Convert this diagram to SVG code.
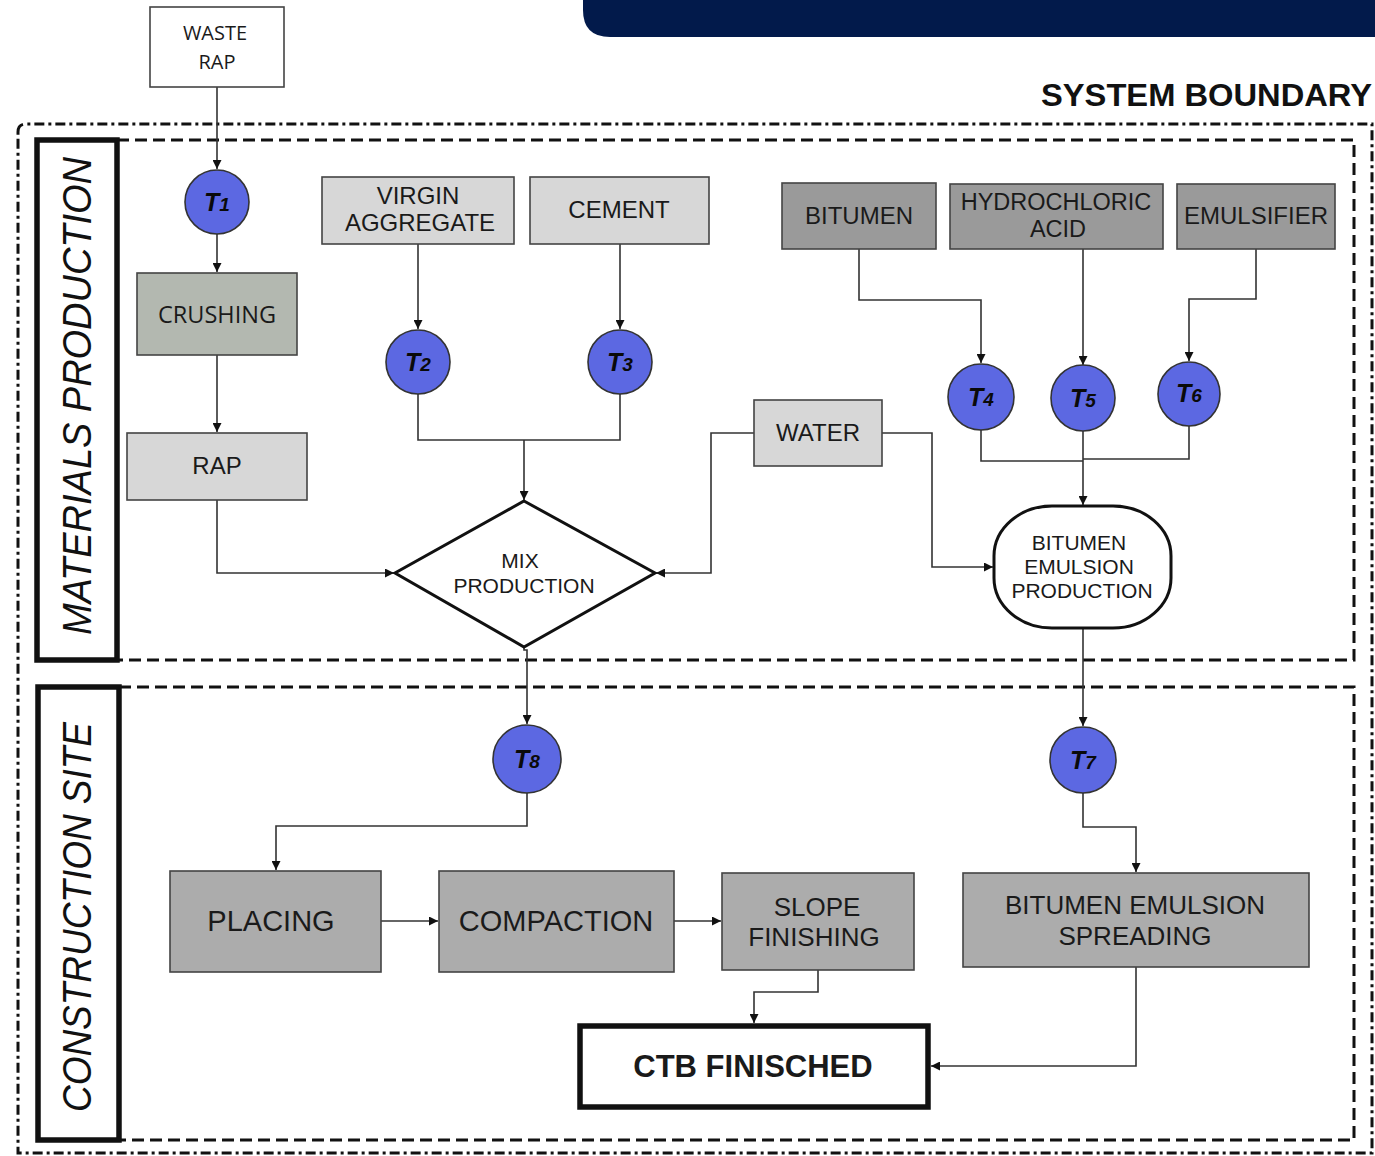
<svg xmlns="http://www.w3.org/2000/svg" width="1375" height="1156" viewBox="0 0 1375 1156">
  <defs>
    <marker id="arr" viewBox="0 0 10 10" refX="10" refY="5" markerWidth="9" markerHeight="9" markerUnits="userSpaceOnUse" orient="auto">
      <path d="M0,0 L10,5 L0,10 Z" fill="#111"/>
    </marker>
    <style>
      .box { stroke: #444; stroke-width: 1.6; }
      .light { fill: #d7d7d7; }
      .mid { fill: #acacac; }
      .dark { fill: #9a9a9a; }
      .t { font-family: "Liberation Sans", Arial, sans-serif; fill: #1a1a1a; text-anchor: middle; }
      .os { font-family: "Open Sans", "Liberation Sans", sans-serif; fill: #1a1a1a; text-anchor: middle; }
      .tc circle, .tc ellipse { fill: #5c68e2; stroke: #333; stroke-width: 1.6; }
      .tl { font-family: "Liberation Sans", Arial, sans-serif; font-weight: bold; font-style: italic; fill: #0a0a0a; text-anchor: middle; font-size: 25px; }
      .tl tspan { font-size: 19px; }
      .conn path { fill: none; stroke: #333; stroke-width: 1.6; }
      .dash { fill: none; stroke: #111; stroke-width: 3; stroke-dasharray: 12 6; }
      .lane { fill: none; stroke: #111; stroke-width: 5.5; }
      .lanetxt { font-family: "Liberation Sans", Arial, sans-serif; font-style: italic; font-size: 40px; fill: #111; text-anchor: middle; }
    </style>
  </defs>

  <rect width="1375" height="1156" fill="#fff"/>

  <!-- header band -->
  <path d="M583,0 H1375 V37 H610 Q583,37 583,10 Z" fill="#021a4b"/>

  <!-- system boundary -->
  <text x="1372" y="106" font-family="Liberation Sans, Arial, sans-serif" font-weight="bold" font-size="32" text-anchor="end" textLength="331" lengthAdjust="spacingAndGlyphs" fill="#111">SYSTEM  BOUNDARY</text>
  <path d="M18,132 Q18,124 26,124 H1372 V1153 H18 Z" fill="none" stroke="#111" stroke-width="3" stroke-dasharray="10 4 3 4"/>

  <!-- lanes -->
  <g id="lane-materials">
    <path class="dash" d="M117,140 H1354 V660 H117"/>
    <rect class="lane" x="37" y="140" width="80" height="520"/>
    <text class="lanetxt" transform="translate(91,396) rotate(-90)" textLength="478" lengthAdjust="spacingAndGlyphs">MATERIALS  PRODUCTION</text>
  </g>
  <g id="lane-construction">
    <path class="dash" d="M119,687 H1354 V1140 H119"/>
    <rect class="lane" x="38" y="687" width="81" height="453"/>
    <text class="lanetxt" transform="translate(91,917) rotate(-90)" textLength="390" lengthAdjust="spacingAndGlyphs">CONSTRUCTION SITE</text>
  </g>

  <!-- connectors -->
  <g class="conn">
    <path d="M217,87 V169" marker-end="url(#arr)"/>
    <path d="M217,234 V272" marker-end="url(#arr)"/>
    <path d="M217,355 V432" marker-end="url(#arr)"/>
    <path d="M217,500 V573 H394" marker-end="url(#arr)"/>
    <path d="M418,244 V329" marker-end="url(#arr)"/>
    <path d="M620,244 V329" marker-end="url(#arr)"/>
    <path d="M418,394 V440 H620 V394"/>
    <path d="M524,440 V500" marker-end="url(#arr)"/>
    <path d="M754,433 H711 V573 H656" marker-end="url(#arr)"/>
    <path d="M882,433 H932 V567 H993" marker-end="url(#arr)"/>
    <path d="M859,249 V300 H981 V363" marker-end="url(#arr)"/>
    <path d="M1083,249 V365" marker-end="url(#arr)"/>
    <path d="M1256,249 V299 H1189 V361" marker-end="url(#arr)"/>
    <path d="M981,430 V461 H1083"/>
    <path d="M1189,426 V459 H1083"/>
    <path d="M1083,431 V505" marker-end="url(#arr)"/>
    <path d="M1083,628 V726" marker-end="url(#arr)"/>
    <path d="M1083,793 V827 H1136 V872" marker-end="url(#arr)"/>
    <path d="M1136,967 V1066 H931" marker-end="url(#arr)"/>
    <path d="M524,647 V650 H527 V724" marker-end="url(#arr)"/>
    <path d="M527,793 V826 H276 V870" marker-end="url(#arr)"/>
    <path d="M381,921 H438" marker-end="url(#arr)"/>
    <path d="M674,921 H721" marker-end="url(#arr)"/>
    <path d="M818,970 V992 H754 V1023" marker-end="url(#arr)"/>
  </g>

  <!-- source nodes -->
  <g id="waste-rap">
    <rect x="150" y="7" width="134" height="80" fill="#fff" stroke="#444" stroke-width="1.6"/>
    <text class="os" x="215" y="40" font-size="20">WASTE</text>
    <text class="os" x="217" y="69" font-size="20">RAP</text>
  </g>
  <g id="crushing">
    <rect class="box" x="137" y="273" width="160" height="82" fill="#b3b8b0"/>
    <text class="os" x="217" y="323" font-size="23.5">CRUSHING</text>
  </g>
  <g id="rap">
    <rect class="box light" x="127" y="433" width="180" height="67"/>
    <text class="t" x="217" y="474" font-size="24">RAP</text>
  </g>
  <g id="virgin-aggregate">
    <rect class="box light" x="322" y="177" width="192" height="67"/>
    <text class="t" x="418" y="204" font-size="24">VIRGIN</text>
    <text class="t" x="420" y="231" font-size="24">AGGREGATE</text>
  </g>
  <g id="cement">
    <rect class="box light" x="530" y="177" width="179" height="67"/>
    <text class="t" x="619" y="218" font-size="24">CEMENT</text>
  </g>
  <g id="water">
    <rect class="box light" x="754" y="400" width="128" height="66"/>
    <text class="t" x="818" y="441" font-size="24">WATER</text>
  </g>
  <g id="bitumen">
    <rect class="box dark" x="782" y="183" width="154" height="66"/>
    <text class="t" x="859" y="224" font-size="24">BITUMEN</text>
  </g>
  <g id="hydrochloric-acid">
    <rect class="box dark" x="950" y="184" width="213" height="65"/>
    <text class="t" x="1056" y="210" font-size="23.5">HYDROCHLORIC</text>
    <text class="t" x="1058" y="237" font-size="23.5">ACID</text>
  </g>
  <g id="emulsifier">
    <rect class="box dark" x="1177" y="184" width="158" height="65"/>
    <text class="t" x="1256" y="224" font-size="24">EMULSIFIER</text>
  </g>

  <!-- transport steps -->
  <g id="t1" class="tc"><circle cx="217" cy="202" r="32"/><text class="tl" x="217" y="211">T<tspan>1</tspan></text></g>
  <g id="t2" class="tc"><circle cx="418" cy="362" r="32"/><text class="tl" x="418" y="371">T<tspan>2</tspan></text></g>
  <g id="t3" class="tc"><circle cx="620" cy="362" r="32"/><text class="tl" x="620" y="371">T<tspan>3</tspan></text></g>
  <g id="t4" class="tc"><ellipse cx="981" cy="397" rx="33" ry="33"/><text class="tl" x="981" y="406">T<tspan>4</tspan></text></g>
  <g id="t5" class="tc"><ellipse cx="1083" cy="398" rx="32" ry="33"/><text class="tl" x="1083" y="407">T<tspan>5</tspan></text></g>
  <g id="t6" class="tc"><ellipse cx="1189" cy="394" rx="31" ry="32"/><text class="tl" x="1189" y="402">T<tspan>6</tspan></text></g>
  <g id="t7" class="tc"><circle cx="1083" cy="760" r="33"/><text class="tl" x="1083" y="769">T<tspan>7</tspan></text></g>
  <g id="t8" class="tc"><circle cx="527" cy="759" r="34"/><text class="tl" x="527" y="768">T<tspan>8</tspan></text></g>

  <!-- processes -->
  <g id="mix-production">
    <path d="M524,501 L655,573 L524,647 L395,573 Z" fill="#fff" stroke="#111" stroke-width="3"/>
    <text class="t" x="520" y="568" font-size="21">MIX</text>
    <text class="t" x="524" y="593" font-size="21">PRODUCTION</text>
  </g>
  <g id="bitumen-emulsion-production">
    <rect x="994" y="506" width="177" height="122" rx="58" ry="50" fill="#fff" stroke="#111" stroke-width="3"/>
    <text class="t" x="1079" y="550" font-size="21">BITUMEN</text>
    <text class="t" x="1079" y="574" font-size="21">EMULSION</text>
    <text class="t" x="1082" y="598" font-size="21">PRODUCTION</text>
  </g>
  <g id="placing">
    <rect class="box mid" x="170" y="871" width="211" height="101"/>
    <text class="t" x="271" y="931" font-size="29">PLACING</text>
  </g>
  <g id="compaction">
    <rect class="box mid" x="439" y="871" width="235" height="101"/>
    <text class="t" x="556" y="931" font-size="29">COMPACTION</text>
  </g>
  <g id="slope-finishing">
    <rect class="box mid" x="722" y="873" width="192" height="97"/>
    <text class="t" x="817" y="916" font-size="26">SLOPE</text>
    <text class="t" x="814" y="946" font-size="26">FINISHING</text>
  </g>
  <g id="bitumen-emulsion-spreading">
    <rect class="box mid" x="963" y="873" width="346" height="94"/>
    <text class="t" x="1135" y="914" font-size="26">BITUMEN EMULSION</text>
    <text class="t" x="1135" y="945" font-size="26">SPREADING</text>
  </g>
  <g id="ctb-finished">
    <rect x="580" y="1026" width="348" height="81" fill="#fff" stroke="#111" stroke-width="5.5"/>
    <text class="t" x="753" y="1077" font-size="31" font-weight="bold" fill="#111">CTB FINISCHED</text>
  </g>
</svg>
